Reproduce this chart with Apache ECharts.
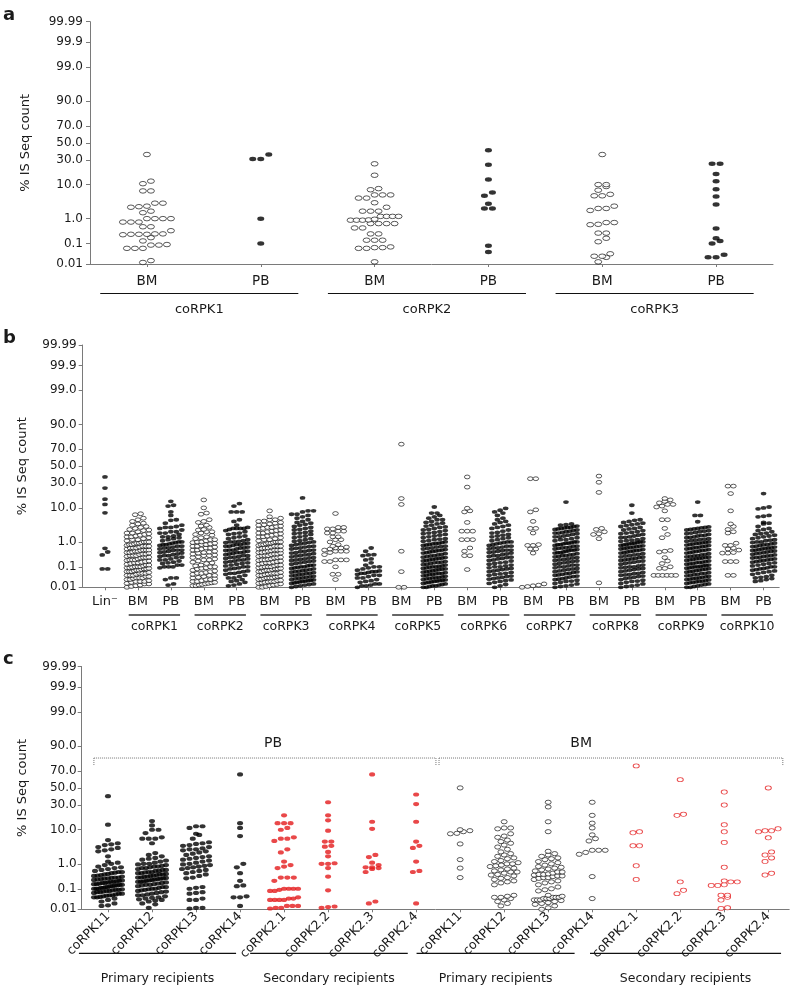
<!DOCTYPE html>
<html><head><meta charset="utf-8">
<script src="https://cdn.jsdelivr.net/npm/echarts@6/dist/echarts.min.js"></script>
<style>html,body{margin:0;padding:0;background:#fff}#c{width:792px;height:992px}</style>
</head><body><div id="c"></div>
<script>
// ---------- tick labels (percent, probit-scaled axis) ----------
const yTickValues = [0.01, 0.1, 1, 10, 30, 50, 70, 90, 99, 99.9, 99.99];
const yTickLabels = ['0.01', '0.1', '1.0', '10.0', '30.0', '50.0', '70.0', '90.0', '99.0', '99.9', '99.99'];

// ---------- panel a ----------
const catsA = ['BM', 'PB', 'BM', 'PB', 'BM', 'PB'];
const groupsA = ['coRPK1', 'coRPK2', 'coRPK3'];
const aBM1 = [36, 12, 10.5, 7, 7, 3.2, 3.2, 2.6, 2.5, 2.4, 1.8, 1.6, 1.0, 1.0, 1.0, 1.0, 0.75, 0.75, 0.75, 0.5, 0.5, 0.35, 0.26, 0.25, 0.25, 0.24, 0.25, 0.26, 0.18, 0.13, 0.09, 0.085, 0.085, 0.06, 0.06, 0.06, 0.015, 0.012];
const aPB1 = [36, 31, 31, 1.0, 0.1];
const aBM2 = [26, 16, 8, 7.5, 5.5, 5.5, 5.5, 4.5, 4.5, 3.3, 2.4, 1.8, 1.8, 1.8, 1.2, 1.2, 1.2, 1.2, 0.95, 0.88, 0.88, 0.88, 0.9, 0.66, 0.66, 0.66, 0.66, 0.45, 0.45, 0.26, 0.26, 0.14, 0.14, 0.14, 0.065, 0.06, 0.06, 0.065, 0.07, 0.013];
const aPB2 = [41, 25, 13, 6.4, 5.2, 3.1, 2.2, 2.2, 0.08, 0.04];
const aBM3 = [36, 10, 10, 9, 7.3, 5.7, 5.2, 5.2, 2.6, 2.2, 2.2, 1.9, 0.72, 0.72, 0.6, 0.62, 0.28, 0.28, 0.17, 0.12, 0.033, 0.025, 0.022, 0.025, 0.013];
const aPB3 = [26, 26, 17, 12, 7.7, 5, 2.9, 0.43, 0.17, 0.13, 0.1, 0.03, 0.022, 0.022];

// ---------- panel b ----------
const catsB = ['Lin\u207B', 'BM', 'PB', 'BM', 'PB', 'BM', 'PB', 'BM', 'PB', 'BM', 'PB', 'BM', 'PB', 'BM', 'PB', 'BM', 'PB', 'BM', 'PB', 'BM', 'PB'];
const groupsB = ['coRPK1', 'coRPK2', 'coRPK3', 'coRPK4', 'coRPK5', 'coRPK6', 'coRPK7', 'coRPK8', 'coRPK9', 'coRPK10'];
const bLin = [37, 25, 15.5, 12, 7.6, 0.58, 0.42, 0.32, 0.08, 0.08];
const bBM1 = [7.2, 6.8, 5.5, 5, 4.5, 4, 3.8, 3.5, 3.2, 3, 2.8, 2.6, 2.5, 2.4, 2.2, 2, 2, 1.9, 1.8, 1.7, 1.6, 1.5, 1.5, 1.4, 1.3, 1.2, 1.2, 1.1, 1, 1, 1, 0.95, 0.9, 0.9, 0.85, 0.8, 0.8, 0.75, 0.7, 0.7, 0.7, 0.65, 0.6, 0.6, 0.6, 0.55, 0.5, 0.5, 0.5, 0.48, 0.45, 0.45, 0.42, 0.4, 0.4, 0.38, 0.35, 0.35, 0.33, 0.3, 0.3, 0.3, 0.28, 0.26, 0.25, 0.25, 0.24, 0.22, 0.2, 0.2, 0.2, 0.19, 0.18, 0.17, 0.16, 0.15, 0.15, 0.14, 0.13, 0.12, 0.12, 0.11, 0.1, 0.1, 0.1, 0.095, 0.09, 0.09, 0.085, 0.08, 0.08, 0.075, 0.07, 0.07, 0.065, 0.06, 0.06, 0.06, 0.055, 0.05, 0.05, 0.05, 0.045, 0.04, 0.04, 0.04, 0.035, 0.035, 0.03, 0.03, 0.03, 0.028, 0.025, 0.025, 0.022, 0.02, 0.02, 0.02, 0.018, 0.016, 0.015, 0.015, 0.013, 0.012, 0.011, 0.01];
const bPB1 = [14, 11.5, 11, 8, 6.5, 5, 4.8, 4, 3.5, 3.2, 3, 3, 2.8, 2.5, 2.2, 2.2, 2, 2, 1.8, 1.6, 1.5, 1.5, 1.4, 1.3, 1.2, 1.1, 1, 1, 0.95, 0.9, 0.85, 0.8, 0.8, 0.75, 0.7, 0.7, 0.65, 0.6, 0.6, 0.55, 0.5, 0.5, 0.48, 0.45, 0.42, 0.4, 0.38, 0.35, 0.33, 0.3, 0.3, 0.28, 0.26, 0.25, 0.22, 0.2, 0.2, 0.18, 0.16, 0.15, 0.14, 0.12, 0.12, 0.1, 0.1, 0.1, 0.09, 0.03, 0.03, 0.025, 0.013, 0.015];
const bBM2 = [15, 10, 7.5, 7, 5, 4.5, 4.2, 3.5, 3.3, 3, 2.6, 2.5, 2.2, 2.2, 2, 1.8, 1.7, 1.5, 1.4, 1.3, 1.2, 1.2, 1.1, 1, 1, 0.95, 0.9, 0.85, 0.8, 0.8, 0.7, 0.7, 0.65, 0.6, 0.6, 0.55, 0.5, 0.5, 0.45, 0.42, 0.4, 0.38, 0.35, 0.32, 0.3, 0.3, 0.27, 0.25, 0.22, 0.2, 0.2, 0.18, 0.16, 0.15, 0.14, 0.12, 0.11, 0.1, 0.1, 0.09, 0.085, 0.08, 0.07, 0.065, 0.06, 0.055, 0.05, 0.05, 0.045, 0.04, 0.04, 0.035, 0.032, 0.03, 0.028, 0.025, 0.025, 0.022, 0.02, 0.02, 0.018, 0.017, 0.016, 0.015, 0.014, 0.013, 0.012, 0.012];
const bPB2 = [12.5, 11, 8, 8, 8, 5, 4.5, 3.5, 3, 2.8, 2.8, 2.8, 2.8, 2.6, 2.4, 2.2, 2, 1.9, 1.8, 1.6, 1.5, 1.4, 1.3, 1.2, 1.1, 1.05, 1, 1, 0.95, 0.9, 0.85, 0.8, 0.8, 0.75, 0.7, 0.7, 0.65, 0.6, 0.6, 0.55, 0.5, 0.5, 0.48, 0.45, 0.42, 0.4, 0.4, 0.37, 0.35, 0.33, 0.3, 0.3, 0.28, 0.26, 0.25, 0.23, 0.22, 0.2, 0.2, 0.18, 0.17, 0.16, 0.15, 0.14, 0.13, 0.12, 0.11, 0.1, 0.1, 0.09, 0.085, 0.08, 0.07, 0.065, 0.06, 0.055, 0.05, 0.05, 0.045, 0.04, 0.035, 0.03, 0.03, 0.025, 0.022, 0.02, 0.018, 0.015, 0.013, 0.012];
const bBM3 = [8.5, 6, 5.5, 5, 5, 4.6, 4.5, 4.2, 4, 3.8, 3.6, 3.5, 3.3, 3.2, 3, 3, 2.8, 2.7, 2.5, 2.4, 2.3, 2.2, 2, 2, 1.9, 1.8, 1.7, 1.6, 1.5, 1.5, 1.4, 1.3, 1.2, 1.2, 1.1, 1, 1, 1, 0.95, 0.9, 0.9, 0.85, 0.8, 0.8, 0.75, 0.7, 0.7, 0.7, 0.65, 0.6, 0.6, 0.58, 0.55, 0.5, 0.5, 0.5, 0.47, 0.45, 0.42, 0.4, 0.4, 0.38, 0.35, 0.35, 0.33, 0.3, 0.3, 0.3, 0.28, 0.26, 0.25, 0.24, 0.22, 0.21, 0.2, 0.2, 0.19, 0.18, 0.17, 0.16, 0.15, 0.15, 0.14, 0.13, 0.12, 0.12, 0.11, 0.1, 0.1, 0.1, 0.095, 0.09, 0.085, 0.08, 0.08, 0.075, 0.07, 0.07, 0.065, 0.06, 0.06, 0.055, 0.05, 0.05, 0.05, 0.046, 0.043, 0.04, 0.04, 0.037, 0.035, 0.033, 0.03, 0.03, 0.03, 0.028, 0.026, 0.025, 0.023, 0.022, 0.02, 0.02, 0.019, 0.018, 0.017, 0.016, 0.015, 0.014, 0.013, 0.012, 0.011, 0.01, 0.01];
const bPB3 = [16.5, 8.5, 8.5, 8, 7, 7, 6.5, 6, 5.5, 5, 4.5, 4.2, 4, 3.7, 3.5, 3.2, 3, 2.8, 2.6, 2.5, 2.3, 2.1, 2, 1.9, 1.8, 1.6, 1.5, 1.4, 1.3, 1.2, 1.1, 1.05, 1, 0.95, 0.9, 0.85, 0.8, 0.75, 0.7, 0.68, 0.65, 0.6, 0.58, 0.55, 0.5, 0.48, 0.45, 0.43, 0.4, 0.38, 0.36, 0.34, 0.32, 0.3, 0.29, 0.27, 0.25, 0.24, 0.22, 0.21, 0.2, 0.19, 0.18, 0.17, 0.16, 0.15, 0.14, 0.13, 0.12, 0.115, 0.11, 0.1, 0.1, 0.095, 0.09, 0.085, 0.08, 0.075, 0.07, 0.067, 0.063, 0.06, 0.057, 0.054, 0.05, 0.048, 0.045, 0.043, 0.04, 0.038, 0.036, 0.034, 0.032, 0.03, 0.029, 0.027, 0.025, 0.024, 0.023, 0.022, 0.021, 0.02, 0.019, 0.018, 0.017, 0.016, 0.015, 0.014, 0.013, 0.012, 0.011, 0.01];
const bBM4 = [7.3, 3, 3, 2.7, 2.7, 2.3, 2.3, 2, 2, 1.5, 1.5, 1.2, 1.2, 1, 0.8, 0.7, 0.65, 0.6, 0.6, 0.55, 0.5, 0.45, 0.45, 0.45, 0.4, 0.33, 0.2, 0.2, 0.2, 0.17, 0.17, 0.1, 0.045, 0.045, 0.025];
const bPB4 = [0.6, 0.45, 0.33, 0.32, 0.3, 0.22, 0.2, 0.15, 0.12, 0.1, 0.1, 0.09, 0.08, 0.07, 0.065, 0.06, 0.06, 0.055, 0.05, 0.05, 0.045, 0.04, 0.04, 0.035, 0.03, 0.03, 0.025, 0.022, 0.02, 0.018, 0.015, 0.015, 0.013, 0.012, 0.012, 0.01];
const bBM5 = [75, 16, 12, 0.45, 0.06, 0.01, 0.01];
const bPB5 = [10.5, 7.5, 7.5, 6.5, 6, 5.5, 5, 5, 4.5, 4.2, 4, 3.8, 3.5, 3.3, 3.1, 3, 2.8, 2.6, 2.5, 2.4, 2.2, 2.1, 2, 1.9, 1.8, 1.7, 1.6, 1.5, 1.4, 1.3, 1.25, 1.2, 1.1, 1.05, 1, 0.95, 0.9, 0.88, 0.85, 0.8, 0.78, 0.75, 0.7, 0.68, 0.65, 0.6, 0.58, 0.55, 0.52, 0.5, 0.48, 0.46, 0.44, 0.42, 0.4, 0.38, 0.36, 0.34, 0.32, 0.3, 0.29, 0.28, 0.26, 0.25, 0.24, 0.23, 0.22, 0.21, 0.2, 0.19, 0.18, 0.17, 0.16, 0.155, 0.15, 0.14, 0.13, 0.125, 0.12, 0.11, 0.105, 0.1, 0.1, 0.095, 0.09, 0.085, 0.08, 0.078, 0.075, 0.07, 0.066, 0.063, 0.06, 0.057, 0.054, 0.05, 0.05, 0.047, 0.045, 0.043, 0.04, 0.038, 0.036, 0.034, 0.032, 0.03, 0.03, 0.028, 0.027, 0.025, 0.024, 0.023, 0.022, 0.021, 0.02, 0.019, 0.018, 0.017, 0.016, 0.015, 0.014, 0.013, 0.012, 0.012, 0.011, 0.01, 0.01];
const bBM6 = [37, 26, 9.8, 8, 8.5, 4.2, 2.3, 2.3, 2.3, 1.2, 1.2, 1.2, 0.6, 0.45, 0.3, 0.3, 0.075];
const bPB6 = [9.7, 8.8, 8, 7.5, 6.5, 5.5, 5, 4.5, 4.2, 3.8, 3.5, 3.2, 3, 2.8, 2.5, 2.3, 2.1, 2, 1.8, 1.7, 1.6, 1.5, 1.4, 1.3, 1.2, 1.1, 1, 1, 0.95, 0.9, 0.85, 0.8, 0.75, 0.7, 0.7, 0.65, 0.6, 0.6, 0.55, 0.5, 0.5, 0.47, 0.45, 0.42, 0.4, 0.38, 0.35, 0.33, 0.3, 0.3, 0.28, 0.26, 0.25, 0.23, 0.22, 0.2, 0.19, 0.18, 0.16, 0.15, 0.14, 0.13, 0.12, 0.11, 0.1, 0.1, 0.09, 0.085, 0.08, 0.075, 0.07, 0.065, 0.06, 0.055, 0.05, 0.047, 0.044, 0.04, 0.037, 0.035, 0.032, 0.03, 0.028, 0.026, 0.024, 0.022, 0.02, 0.018, 0.016, 0.014, 0.012, 0.01];
const bBM7 = [35, 35, 9, 8, 4.5, 2.8, 2.8, 2, 0.75, 0.75, 0.8, 0.55, 0.55, 0.38, 0.015, 0.013, 0.011, 0.012, 0.01];
const bPB7 = [13.5, 3.8, 3.6, 3.5, 3.3, 3.2, 3, 3, 2.9, 2.8, 2.7, 2.6, 2.5, 2.4, 2.3, 2.2, 2.1, 2, 2, 1.9, 1.8, 1.7, 1.6, 1.5, 1.5, 1.4, 1.3, 1.2, 1.2, 1.1, 1, 1, 0.95, 0.9, 0.9, 0.85, 0.8, 0.8, 0.75, 0.7, 0.7, 0.65, 0.62, 0.6, 0.58, 0.55, 0.52, 0.5, 0.5, 0.47, 0.45, 0.42, 0.4, 0.4, 0.38, 0.36, 0.34, 0.32, 0.3, 0.3, 0.28, 0.27, 0.25, 0.24, 0.22, 0.21, 0.2, 0.19, 0.18, 0.17, 0.16, 0.15, 0.14, 0.13, 0.12, 0.12, 0.11, 0.1, 0.1, 0.09, 0.085, 0.08, 0.075, 0.07, 0.065, 0.06, 0.058, 0.055, 0.05, 0.048, 0.045, 0.042, 0.04, 0.037, 0.035, 0.033, 0.03, 0.028, 0.026, 0.025, 0.023, 0.021, 0.02, 0.018, 0.016, 0.015, 0.013, 0.012, 0.011, 0.01];
const bBM8 = [38, 31, 21, 2.8, 2.2, 2.6, 1.8, 1.3, 1.9, 0.017];
const bPB8 = [11.5, 7.5, 5, 4.8, 4.5, 4.2, 4, 3.8, 3.6, 3.4, 3.2, 3, 2.8, 2.7, 2.5, 2.4, 2.2, 2.1, 2, 1.9, 1.8, 1.7, 1.6, 1.5, 1.45, 1.4, 1.3, 1.2, 1.15, 1.1, 1.05, 1, 1, 0.95, 0.9, 0.87, 0.85, 0.8, 0.78, 0.75, 0.72, 0.7, 0.67, 0.65, 0.62, 0.6, 0.57, 0.55, 0.52, 0.5, 0.48, 0.46, 0.44, 0.42, 0.4, 0.38, 0.36, 0.34, 0.32, 0.3, 0.29, 0.27, 0.26, 0.25, 0.23, 0.22, 0.21, 0.2, 0.19, 0.18, 0.17, 0.16, 0.15, 0.14, 0.13, 0.12, 0.11, 0.1, 0.1, 0.095, 0.09, 0.085, 0.08, 0.075, 0.07, 0.065, 0.06, 0.055, 0.05, 0.048, 0.045, 0.042, 0.04, 0.037, 0.035, 0.032, 0.03, 0.028, 0.025, 0.023, 0.021, 0.02, 0.018, 0.016, 0.015, 0.013, 0.012, 0.011, 0.01];
const bBM9 = [16, 15, 14, 13, 12, 12, 11, 10.5, 8.5, 5, 5, 2.8, 1.8, 1.4, 0.48, 0.45, 0.42, 0.25, 0.18, 0.14, 0.1, 0.085, 0.085, 0.04, 0.04, 0.04, 0.04, 0.04, 0.04];
const bPB9 = [13.5, 6.5, 6.5, 4.4, 3.1, 3, 2.9, 2.8, 2.7, 2.6, 2.5, 2.4, 2.3, 2.2, 2.1, 2, 1.9, 1.8, 1.7, 1.65, 1.6, 1.5, 1.45, 1.4, 1.3, 1.25, 1.2, 1.15, 1.1, 1.05, 1, 0.97, 0.93, 0.9, 0.87, 0.84, 0.8, 0.77, 0.74, 0.7, 0.68, 0.65, 0.62, 0.6, 0.57, 0.55, 0.52, 0.5, 0.48, 0.46, 0.44, 0.42, 0.4, 0.38, 0.36, 0.34, 0.32, 0.3, 0.29, 0.28, 0.27, 0.26, 0.25, 0.24, 0.23, 0.22, 0.21, 0.2, 0.19, 0.18, 0.17, 0.16, 0.155, 0.15, 0.14, 0.135, 0.13, 0.12, 0.115, 0.11, 0.105, 0.1, 0.1, 0.095, 0.09, 0.086, 0.082, 0.078, 0.075, 0.07, 0.067, 0.063, 0.06, 0.057, 0.054, 0.05, 0.048, 0.045, 0.043, 0.04, 0.038, 0.036, 0.034, 0.032, 0.03, 0.029, 0.028, 0.026, 0.025, 0.024, 0.022, 0.021, 0.02, 0.019, 0.018, 0.017, 0.016, 0.015, 0.014, 0.013, 0.012, 0.011, 0.01, 0.01];
const bBM10 = [27, 27, 20, 8.5, 3.8, 3.2, 2.6, 2.2, 2, 0.9, 0.75, 0.75, 0.6, 0.55, 0.5, 0.4, 0.38, 0.38, 0.17, 0.17, 0.17, 0.04, 0.04];
const bPB10 = [20, 10.5, 10, 9.5, 6.5, 6.2, 6, 4.2, 4, 3.8, 3.2, 2.8, 2.6, 2.4, 2.2, 2, 1.9, 1.8, 1.7, 1.6, 1.5, 1.4, 1.3, 1.2, 1.15, 1.1, 1, 1, 0.95, 0.9, 0.85, 0.8, 0.78, 0.75, 0.7, 0.68, 0.65, 0.6, 0.6, 0.57, 0.55, 0.52, 0.5, 0.48, 0.46, 0.44, 0.42, 0.4, 0.38, 0.36, 0.34, 0.32, 0.3, 0.29, 0.28, 0.26, 0.25, 0.24, 0.22, 0.21, 0.2, 0.19, 0.18, 0.17, 0.16, 0.15, 0.14, 0.13, 0.12, 0.11, 0.1, 0.1, 0.09, 0.085, 0.08, 0.075, 0.07, 0.065, 0.06, 0.055, 0.05, 0.045, 0.04, 0.035, 0.032, 0.03, 0.028, 0.025, 0.022, 0.02];

// ---------- panel c ----------
const catsC = ['coRPK11', 'coRPK12', 'coRPK13', 'coRPK14', 'coRPK2.1', 'coRPK2.2', 'coRPK2.3', 'coRPK2.4', 'coRPK11', 'coRPK12', 'coRPK13', 'coRPK14', 'coRPK2.1', 'coRPK2.2', 'coRPK2.3', 'coRPK2.4'];
const recipientGroups = ['Primary recipients', 'Secondary recipients', 'Primary recipients', 'Secondary recipients'];
const tissueGroups = ['PB', 'BM'];
const cPB11 = [40, 13, 5.5, 4.5, 4.2, 4, 3.5, 3.3, 3, 2.8, 2.6, 1.8, 1.2, 1.1, 1, 0.9, 0.8, 0.75, 0.7, 0.65, 0.6, 0.55, 0.5, 0.5, 0.47, 0.45, 0.42, 0.4, 0.38, 0.36, 0.35, 0.33, 0.3, 0.3, 0.29, 0.28, 0.27, 0.26, 0.25, 0.24, 0.23, 0.22, 0.21, 0.2, 0.2, 0.19, 0.18, 0.18, 0.17, 0.16, 0.16, 0.15, 0.15, 0.14, 0.14, 0.13, 0.13, 0.12, 0.12, 0.11, 0.11, 0.1, 0.1, 0.1, 0.095, 0.09, 0.09, 0.085, 0.08, 0.08, 0.075, 0.07, 0.07, 0.065, 0.06, 0.06, 0.055, 0.05, 0.05, 0.048, 0.045, 0.042, 0.04, 0.04, 0.035, 0.03, 0.025, 0.02, 0.016, 0.015];
const cPB12 = [15.5, 12.5, 10, 10, 8.3, 6.5, 6, 6, 6, 4.5, 2.3, 2, 1.8, 1.6, 1.5, 1.4, 1.3, 1.2, 1.1, 1, 1, 0.95, 0.9, 0.85, 0.8, 0.8, 0.75, 0.7, 0.7, 0.65, 0.6, 0.6, 0.55, 0.55, 0.5, 0.5, 0.48, 0.45, 0.45, 0.42, 0.4, 0.4, 0.38, 0.36, 0.35, 0.33, 0.32, 0.3, 0.3, 0.29, 0.28, 0.27, 0.26, 0.25, 0.24, 0.23, 0.22, 0.21, 0.2, 0.2, 0.19, 0.18, 0.17, 0.16, 0.15, 0.15, 0.14, 0.13, 0.12, 0.12, 0.11, 0.1, 0.1, 0.095, 0.09, 0.085, 0.08, 0.075, 0.07, 0.065, 0.06, 0.055, 0.05, 0.05, 0.045, 0.04, 0.038, 0.035, 0.032, 0.03, 0.028, 0.025, 0.02, 0.018, 0.012];
const cPB13 = [12, 12, 11, 8, 7.5, 6, 4.8, 4.5, 4.3, 4, 3.8, 3.5, 3.2, 3, 3, 2.8, 2.6, 2.4, 2.2, 2, 1.8, 1.7, 1.6, 1.5, 1.4, 1.3, 1.2, 1.1, 1, 0.95, 0.9, 0.85, 0.8, 0.75, 0.7, 0.65, 0.6, 0.55, 0.5, 0.45, 0.4, 0.35, 0.3, 0.28, 0.12, 0.11, 0.1, 0.07, 0.065, 0.06, 0.035, 0.03, 0.03, 0.012, 0.011, 0.012];
const cPB14 = [66, 14, 11, 7, 1.0, 0.75, 0.45, 0.22, 0.14, 0.13, 0.04, 0.04, 0.045, 0.015];
const cPB21 = [20, 14, 14, 14, 11, 10, 6.5, 6, 6, 5.2, 3, 2.4, 1.2, 0.9, 0.8, 0.7, 0.3, 0.3, 0.3, 0.22, 0.1, 0.1, 0.1, 0.1, 0.09, 0.08, 0.08, 0.03, 0.03, 0.03, 0.03, 0.035, 0.035, 0.04, 0.015, 0.015, 0.015, 0.012, 0.012, 0.011];
const cPB22 = [33, 20, 16, 9.5, 5, 5, 3.8, 3.6, 2.5, 1.8, 1.0, 1.05, 1.0, 0.7, 0.33, 0.085, 0.014, 0.012, 0.013];
const cPB23 = [66, 15, 10.5, 2, 1.7, 1.1, 0.9, 0.75, 0.75, 0.7, 0.65, 0.5, 0.025, 0.02];
const cPB24 = [42, 31, 15, 5, 3.8, 3.3, 1.2, 0.55, 0.5, 0.02];
const cBM11 = [50, 9, 10, 9.5, 8, 8.2, 4.3, 1.4, 0.7, 0.3];
const cBM12 = [15, 11, 11, 10.5, 8, 7, 6.5, 5.5, 5, 4.5, 4, 3.5, 3, 2.5, 2.2, 2, 1.8, 1.6, 1.5, 1.3, 1.2, 1.1, 1, 1, 0.9, 0.85, 0.8, 0.7, 0.65, 0.6, 0.55, 0.5, 0.5, 0.45, 0.4, 0.38, 0.35, 0.3, 0.28, 0.25, 0.22, 0.2, 0.18, 0.15, 0.05, 0.045, 0.04, 0.04, 0.035, 0.03, 0.025, 0.02, 0.015];
const cBM13 = [33, 28, 15, 9, 2.6, 2.2, 2, 1.8, 1.6, 1.5, 1.4, 1.2, 1.1, 1, 0.9, 0.8, 0.75, 0.7, 0.65, 0.6, 0.55, 0.5, 0.5, 0.45, 0.42, 0.4, 0.4, 0.38, 0.35, 0.35, 0.33, 0.3, 0.3, 0.28, 0.25, 0.22, 0.2, 0.18, 0.15, 0.12, 0.1, 0.09, 0.08, 0.05, 0.045, 0.04, 0.04, 0.04, 0.035, 0.035, 0.035, 0.03, 0.03, 0.03, 0.028, 0.025, 0.022, 0.02, 0.018, 0.015, 0.012, 0.01];
const cBM14 = [33, 20, 14, 11, 7.5, 6, 5.2, 2.8, 2.8, 2.8, 2.1, 2.4, 0.33, 0.035];
const cBM21 = [75, 9, 8.5, 3.8, 3.8, 0.85, 0.25];
const cBM22 = [60, 20, 21, 0.2, 0.06, 0.085];
const cBM23 = [45, 30, 13, 9, 4.7, 0.75, 0.2, 0.2, 0.22, 0.14, 0.14, 0.15, 0.04, 0.05, 0.05, 0.03, 0.011, 0.012];
const cBM24 = [50, 10.5, 9.5, 9, 9.5, 6.3, 2.5, 2, 1.6, 1.2, 0.45, 0.38];

// ---------- helpers ----------
function probit(p) {
  const a = [-3.969683028665376e+01, 2.209460984245205e+02, -2.759285104469687e+02, 1.383577518672690e+02, -3.066479806614716e+01, 2.506628277459239e+00];
  const b = [-5.447609879822406e+01, 1.615858368580409e+02, -1.556989798598866e+02, 6.680131188771972e+01, -1.328068155288572e+01];
  const c = [-7.784894002430293e-03, -3.223964580411365e-01, -2.400758277161838e+00, -2.549732539343734e+00, 4.374664141464968e+00, 2.938163982698783e+00];
  const d = [7.784695709041462e-03, 3.224671290700398e-01, 2.445134137142996e+00, 3.754408661907416e+00];
  const pl = 0.02425, ph = 1 - pl;
  let q, r;
  if (p < pl) { q = Math.sqrt(-2 * Math.log(p)); return (((((c[0]*q+c[1])*q+c[2])*q+c[3])*q+c[4])*q+c[5]) / ((((d[0]*q+d[1])*q+d[2])*q+d[3])*q+1); }
  if (p <= ph) { q = p - 0.5; r = q*q; return (((((a[0]*r+a[1])*r+a[2])*r+a[3])*r+a[4])*r+a[5])*q / (((((b[0]*r+b[1])*r+b[2])*r+b[3])*r+b[4])*r+1); }
  q = Math.sqrt(-2 * Math.log(1 - p)); return -(((((c[0]*q+c[1])*q+c[2])*q+c[3])*q+c[4])*q+c[5]) / ((((d[0]*q+d[1])*q+d[2])*q+d[3])*q+1);
}
const P = v => probit(v / 100);
const yMin = P(0.01), yMax = P(99.99);
const yTickPos = yTickValues.map(P);
function yLabel(val) {
  let best = 0;
  yTickPos.forEach((t, i) => { if (Math.abs(t - val) < Math.abs(yTickPos[best] - val)) best = i; });
  return yTickLabels[best];
}

// column-scatter layout: points with close values placed side by side in rows
function columnPoints(values, xc, L) {
  const ys = values.map(P).sort((u, v) => u - v);
  const rows = []; let row = null;
  ys.forEach(y => {
    if (!row || (y - row.y0) * L.py > L.rowH) { row = { y0: y, pts: [] }; rows.push(row); }
    row.pts.push(y);
  });
  const out = [];
  rows.forEach(r => {
    const n = r.pts.length;
    const s = n > 1 ? Math.min(L.step, 2 * L.maxHalf / (n - 1)) : 0;
    r.pts.forEach((y, i) => out.push([xc + (i - (n - 1) / 2) * s / L.px, y]));
  });
  return out;
}

const FONT = 'DejaVu Sans';
const AX = '#7a7a7a';
const STY = {
  open: { color: '#fff', borderColor: '#000', borderWidth: 0.8 },
  fill: { color: '#000' },
  redFill: { color: '#e41a1c' },
  redOpen: { color: '#fff', borderColor: '#e41a1c', borderWidth: 0.9 }
};

const panels = [
  { grid: { left: 90, top: 21.7, width: 683, height: 242.3 }, xmin: -0.5, xmax: 5.5, cats: catsA,
    L: { px: 113.8, py: 32.58, rowH: 4.5, step: 8, maxHalf: 24 }, size: [7, 4.5], xfont: 13.5, xmargin: 10, ymargin: 7, nameGap: 58,
    cols: [[0, aBM1, 'open'], [1, aPB1, 'fill'], [2, aBM2, 'open'], [3, aPB2, 'fill'], [4, aBM3, 'open'], [5, aPB3, 'fill']] },
  { grid: { left: 82.7, top: 345, width: 696.5, height: 242.3 }, xmin: -0.677, xmax: 20.474, cats: catsB,
    L: { px: 32.93, py: 32.58, rowH: 3.5, step: 5.5, maxHalf: 11 }, size: [5.6, 3.8], xfont: 13, xmargin: 8, ymargin: 6, nameGap: 54,
    cols: [[0, bLin, 'fill'], [1, bBM1, 'open'], [2, bPB1, 'fill'], [3, bBM2, 'open'], [4, bPB2, 'fill'], [5, bBM3, 'open'], [6, bPB3, 'fill'],
           [7, bBM4, 'open'], [8, bPB4, 'fill'], [9, bBM5, 'open'], [10, bPB5, 'fill'], [11, bBM6, 'open'], [12, bPB6, 'fill'],
           [13, bBM7, 'open'], [14, bPB7, 'fill'], [15, bBM8, 'open'], [16, bPB8, 'fill'], [17, bBM9, 'open'], [18, bPB9, 'fill'],
           [19, bBM10, 'open'], [20, bPB10, 'fill']] },
  { grid: { left: 81.7, top: 666.5, width: 707.5, height: 242.8 }, xmin: -0.597, xmax: 15.475, cats: catsC, rotate: 45,
    L: { px: 44.02, py: 32.65, rowH: 4, step: 6.5, maxHalf: 14 }, size: [6, 4.2], xfont: 12.5, xmargin: 5, ymargin: 5, nameGap: 53,
    cols: [[0, cPB11, 'fill'], [1, cPB12, 'fill'], [2, cPB13, 'fill'], [3, cPB14, 'fill'], [4, cPB21, 'redFill'], [5, cPB22, 'redFill'], [6, cPB23, 'redFill'], [7, cPB24, 'redFill'],
           [8, cBM11, 'open'], [9, cBM12, 'open'], [10, cBM13, 'open'], [11, cBM14, 'open'], [12, cBM21, 'redOpen'], [13, cBM22, 'redOpen'], [14, cBM23, 'redOpen'], [15, cBM24, 'redOpen']] }
];

const option = { animation: false, backgroundColor: '#fff', grid: [], xAxis: [], yAxis: [], series: [] };
panels.forEach((pn, gi) => {
  option.grid.push(pn.grid);
  const idx = pn.cats.map((_, i) => i);
  option.xAxis.push({
    type: 'value', gridIndex: gi, min: pn.xmin, max: pn.xmax,
    axisLine: { show: true, onZero: false, lineStyle: { color: AX, width: 1 } },
    axisTick: { show: true, customValues: idx, length: 3, lineStyle: { color: AX } },
    axisLabel: { customValues: idx, formatter: v => pn.cats[Math.round(v)], fontFamily: FONT, fontSize: pn.xfont, color: '#1a1a1a', margin: pn.xmargin, rotate: pn.rotate || 0 },
    splitLine: { show: false }
  });
  option.yAxis.push({
    type: 'value', gridIndex: gi, min: yMin, max: yMax,
    axisLine: { show: true, onZero: false, lineStyle: { color: AX, width: 1 } },
    axisTick: { show: true, customValues: yTickPos, length: 4, lineStyle: { color: AX } },
    axisLabel: { customValues: yTickPos, formatter: yLabel, fontFamily: FONT, fontSize: 12, color: '#1a1a1a', margin: pn.ymargin },
    splitLine: { show: false },
    name: '% IS Seq count', nameLocation: 'middle', nameGap: pn.nameGap,
    nameTextStyle: { fontFamily: FONT, fontSize: 13, color: '#1a1a1a' }
  });
  pn.cols.forEach(([x, vals, kind]) => {
    option.series.push({
      type: 'scatter', xAxisIndex: gi, yAxisIndex: gi, silent: true,
      symbol: 'circle', symbolSize: pn.size, itemStyle: STY[kind],
      data: columnPoints(vals, x, pn.L)
    });
  });
});

const chart = echarts.init(document.getElementById('c'), null, { renderer: 'canvas' });
chart.setOption(option);

// ---------- annotations positioned through the axes ----------
const px = (gi, x, y) => chart.convertToPixel({ xAxisIndex: gi, yAxisIndex: gi }, [x, y]);
const G = [];
function hline(x1, x2, y, st) { G.push({ type: 'line', shape: { x1, y1: y, x2, y2: y }, style: st, silent: true }); }
function vline(x, y1, y2, st) { G.push({ type: 'line', shape: { x1: x, y1, x2: x, y2 }, style: st, silent: true }); }
function text(x, y, s, size, extra) {
  G.push({ type: 'text', x, y, silent: true, style: Object.assign({ text: s, fontFamily: FONT, fontSize: size, fill: '#1a1a1a', align: 'center', verticalAlign: 'middle' }, extra || {}) });
}
// panel letters
text(3, 15, 'a', 18, { fontWeight: 'bold', align: 'left' });
text(3, 338, 'b', 18, { fontWeight: 'bold', align: 'left' });
text(3, 659, 'c', 18, { fontWeight: 'bold', align: 'left' });

// panel a groups
const botA = px(0, 0, yMin)[1];
groupsA.forEach((g, k) => {
  const x1 = px(0, 2 * k - 0.41, yMin)[0], x2 = px(0, 2 * k + 1.33, yMin)[0];
  hline(x1, x2, botA + 29.5, { stroke: '#111', lineWidth: 1.2 });
  text((x1 + x2) / 2, botA + 46, g, 13);
});
// panel b groups
const botB = px(1, 0, yMin)[1];
groupsB.forEach((g, k) => {
  const c = 2 * k + 1.5;
  const x1 = px(1, c - 0.78, yMin)[0], x2 = px(1, c + 0.78, yMin)[0];
  hline(x1, x2, botB + 27.7, { stroke: '#333', lineWidth: 1.6 });
  text((x1 + x2) / 2, botB + 39.5, g, 12.5);
});
// panel c recipient groups
const botC = px(2, 0, yMin)[1];
const recRanges = [[-0.66, 2.91], [3.23, 6.81], [7.01, 10.6], [10.95, 15.29]];
recipientGroups.forEach((g, k) => {
  const x1 = px(2, recRanges[k][0], yMin)[0], x2 = px(2, recRanges[k][1], yMin)[0];
  hline(x1, x2, botC + 44, { stroke: '#111', lineWidth: 1.2 });
  text((x1 + x2) / 2, botC + 69, g, 12.5);
});
// panel c tissue brackets
const brY = px(2, 0, P(82))[1];
const tisRanges = [[-0.32, 7.45], [7.52, 15.33]];
const tisLabelX = [3.75, 10.75];
const dot = { stroke: '#777', lineWidth: 1, lineDash: [1, 1] };
tissueGroups.forEach((g, k) => {
  const x1 = px(2, tisRanges[k][0], yMin)[0], x2 = px(2, tisRanges[k][1], yMin)[0];
  hline(x1, x2, brY, dot);
  vline(x1, brY, brY + 7, dot);
  vline(x2, brY, brY + 7, dot);
  text(px(2, tisLabelX[k], yMin)[0], brY - 15, g, 14);
});
chart.setOption({ graphic: G });
</script></body></html>
